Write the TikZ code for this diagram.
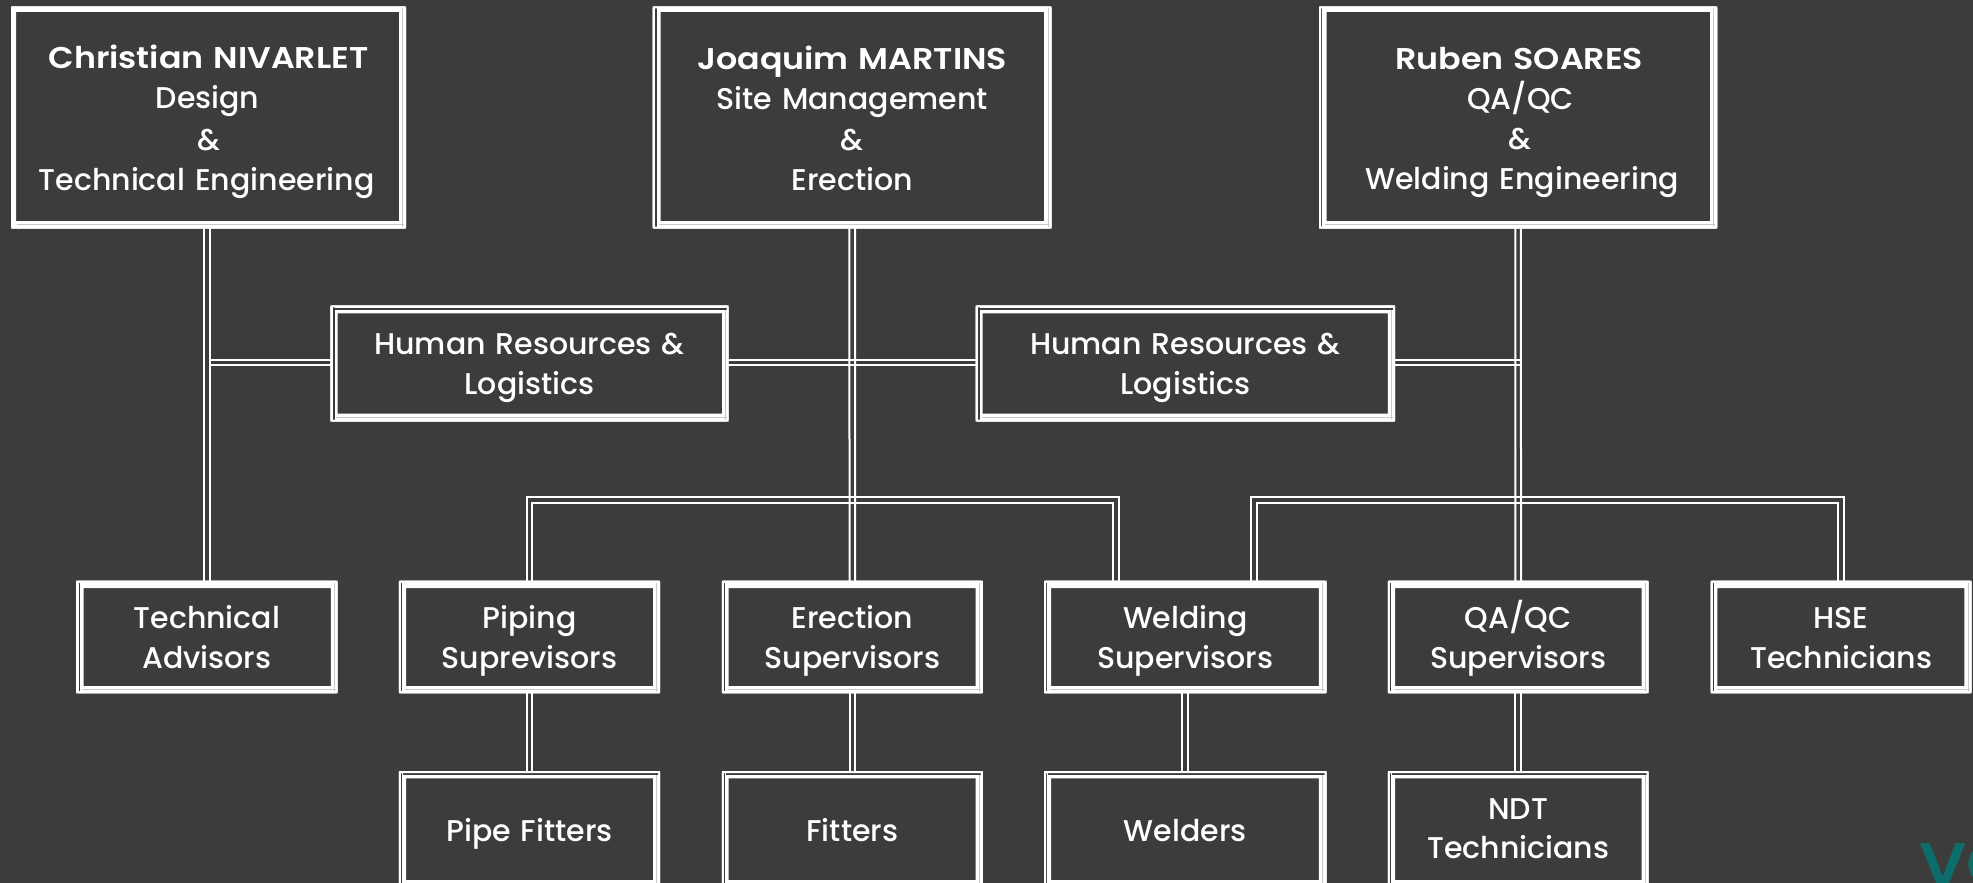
\documentclass[tikz,border=0pt]{standalone}
\usepackage{fontspec}
\setmainfont{Poppins}[UprightFont=* Medium,BoldFont=* SemiBold,BoldFeatures={FakeStretch=1.11}]
\definecolor{bgc}{HTML}{3C3C3B}
\definecolor{hair}{HTML}{C8C8C8}
\definecolor{tealc}{HTML}{0B6E6C}
\tikzset{
  x=1pt,y=-1pt,
  orgnode/.style={draw=white,line width=2pt,inner sep=0pt,outer sep=0pt,rounded corners=1pt,text=white,align=center,font=\fontsize{30}{39.5}\selectfont},
  widenode/.style={orgnode,font=\fontsize{30}{40}\selectfont},
  wire/.style={draw=white,line width=2pt,line join=miter}
}
\def\sh{31}\def\sd{8}
\newcommand\tl[1]{\rule[-\sd pt]{0pt}{\dimexpr\sh pt+\sd pt\relax}#1}
\newcommand\nudge[1]{\hspace*{#1pt}}
% name, x0,y0,x1,y1 (outer extents), text
\newcommand\orgbox[7][orgnode]{%
  \pgfmathsetmacro\cx{(#3+#5)/2}\pgfmathsetmacro\cy{(#4+#6)/2}%
  \pgfmathsetmacro\ww{#5-#3-2}\pgfmathsetmacro\hh{#6-#4-2}%
  \pgfmathsetmacro\tw{#5-#3-8}%
  \node[#1,minimum width=\ww pt,minimum height=\hh pt,text width=\tw pt] (#2) at (\cx,\cy) {#7};}
% x0,x1,y0,y1 outer extents ; i0,i1,j0,j1 opening
\newcommand\bandA[8]{%
  \fill[white,even odd rule] (#1,#3) rectangle (#2,#4) (#5,#7) rectangle (#6,#8);
  \def\Ax{#1}\def\Bx{#2}\def\Ay{#3}\def\By{#4}\def\Ix{#5}\def\Jx{#6}\def\Iy{#7}\def\Jy{#8}%
}
\newcommand\gaps[2]{%
  \pgfmathsetmacro\rx{(\Bx+\Jx)/2}\pgfmathsetmacro\ry{(\By+\Jy)/2}%
  \draw[hair,line width=.7pt] (\rx,\Ay+2) -- (\rx,\By-1);
  \draw[hair,line width=.7pt] (\Ax+6,\ry) -- (\Bx-1,\ry);
  \ifdim #1pt>0pt
    \pgfmathsetmacro\lx{\Ax+2.4+#1/2}%
    \draw[bgc,line width=#1pt] (\lx,\Ay+2) -- (\lx,\By-2);
  \fi
  \ifdim #2pt>0pt
    \pgfmathsetmacro\ty{\Ay+2.4+#2/2}%
    \draw[bgc,line width=#2pt] (\lx+1,\ty) -- (\Bx-2,\ty);
  \fi
}
\newcommand\vpair[2]{%
  \draw[wire] ([xshift=-2.8pt]#1) -- ([xshift=-2.8pt]#2);
  \draw[wire] ([xshift=2.8pt]#1) -- ([xshift=2.8pt]#2);}
\newcommand\hpair[2]{%
  \draw[wire] ([yshift=2.8pt]#1) -- ([yshift=2.8pt]#2);
  \draw[wire] ([yshift=-2.8pt]#1) -- ([yshift=-2.8pt]#2);}
% left drop, bus point, right drop
\newcommand\bus[3]{%
  \draw[wire] ([xshift=-2.8pt]#1) |- ([yshift=2.8pt]#2) -| ([xshift=2.8pt]#3);
  \draw[wire] ([xshift=2.8pt]#1) |- ([yshift=-2.8pt]#2) -| ([xshift=-2.8pt]#3);}
\begin{document}
\begin{tikzpicture}
\useasboundingbox (0,0) rectangle (1973,883);
\fill[bgc] (0,0) rectangle (1973,883);
\clip (0,0) rectangle (1973,883);

\node[text=tealc,anchor=base west,inner sep=0pt,font=\fontsize{60}{60}\selectfont\bfseries] (brand) at (1919,885) {VO};

% bands
\bandA{11}{406}{6.5}{228.5}{16}{399}{12}{221}\gaps{0}{0}
\bandA{652.7}{1051.7}{6.5}{228.5}{660.7}{1044}{12}{221}\gaps{1.4}{0}
\bandA{1319}{1717.3}{6.5}{228.5}{1326.7}{1710}{12}{221}\gaps{1}{0}
\bandA{330.4}{728.6}{305.3}{421.7}{337.5}{722}{313.3}{413.7}\gaps{2}{2}
\bandA{975.7}{1395}{305.3}{421.7}{982.5}{1387.9}{313.3}{413.7}\gaps{2}{2}
\bandA{76.2}{337.6}{580.7}{693.3}{83.7}{330.9}{588}{686}\gaps{1}{0}
\bandA{398.9}{660.2}{580.7}{693.3}{406}{653}{588}{686}\gaps{1}{0}
\bandA{721.9}{982.8}{580.7}{693.3}{728.6}{975.7}{588}{686}\gaps{1}{0}
\bandA{1044}{1326.5}{580.7}{693.3}{1051.2}{1318.9}{588}{686}\gaps{1}{0}
\bandA{1387.9}{1648.5}{580.7}{693.3}{1395}{1641.7}{588}{686}\gaps{1}{0}
\bandA{1710.7}{1971.7}{580.7}{693.3}{1717.3}{1964.3}{588}{686}\gaps{1}{0}
\bandA{398.9}{660.2}{771}{888}{406}{653}{778.3}{880}\gaps{1}{1.6}
\bandA{721.9}{982.8}{771}{888}{728.6}{975.7}{778.3}{880}\gaps{1}{1.6}
\bandA{1044}{1326.5}{771}{888}{1051.2}{1318.9}{778.3}{880}\gaps{1}{1.6}
\bandA{1387.9}{1648.5}{771}{888}{1395}{1641.7}{778.3}{880}\gaps{1}{1.6}

% boxes
\def\sh{32}\def\sd{7}
\orgbox[widenode]{lead1}{11}{6.5}{406}{228.5}{\tl{\textbf{Christian NIVARLET}}\\\nudge{-2}\tl{Design}\\\tl{\&}\\\nudge{-4}\tl{Technical Engineering}}
\orgbox[widenode]{lead2}{652.7}{6.5}{1051.7}{228.5}{\tl{\textbf{Joaquim MARTINS}}\\\tl{Site Management}\\\tl{\&}\\\tl{Erection}}
\orgbox[widenode]{lead3}{1319}{6.5}{1717.3}{228.5}{\nudge{2}\tl{\textbf{Ruben SOARES}}\\\nudge{5}\tl{QA/QC}\\\nudge{4}\tl{\&}\\\nudge{8}\tl{Welding Engineering}}
\def\sh{30}\def\sd{9}
\orgbox[widenode]{hr1}{330.4}{305.3}{728.6}{421.7}{\tl{Human Resources \&}\\\tl{Logistics}}
\orgbox[widenode]{hr2}{975.7}{305.3}{1395}{421.7}{\tl{Human Resources \&}\\\tl{Logistics}}
\def\sh{31}\def\sd{8}
\orgbox{tech}{76.2}{580.7}{337.6}{693.3}{\tl{Technical}\\\tl{Advisors}}
\orgbox{pipe}{398.9}{580.7}{660.2}{693.3}{\tl{Piping}\\\tl{Suprevisors}}
\orgbox{erec}{721.9}{580.7}{982.8}{693.3}{\tl{Erection}\\\tl{Supervisors}}
\orgbox{weld}{1044}{580.7}{1326.5}{693.3}{\tl{Welding}\\\tl{Supervisors}}
\orgbox{qaqc}{1387.9}{580.7}{1648.5}{693.3}{\tl{QA/QC}\\\tl{Supervisors}}
\orgbox{hse}{1710.7}{580.7}{1971.7}{693.3}{\tl{HSE}\\\tl{Technicians}}
\orgbox{pfit}{398.9}{771}{660.2}{888}{\tl{Pipe Fitters}}
\orgbox{fit}{721.9}{771}{982.8}{888}{\tl{Fitters}}
\orgbox{wldr}{1044}{771}{1326.5}{888}{\tl{Welders}}
\def\sh{29}\def\sd{10}
\orgbox{ndt}{1387.9}{771}{1648.5}{888}{\tl{NDT}\\\tl{Technicians}}

% helper points
\coordinate (a1) at (lead1.south -| tech.north);
\coordinate (ja) at (a1 |- 0,362.3);
\coordinate (jc) at (lead3.south |- 0,362.3);
\coordinate (h1l) at (hr1.west |- ja);
\coordinate (h1r) at (hr1.east |- ja);
\coordinate (h2l) at (hr2.west |- ja);
\coordinate (h2r) at (hr2.east |- ja);
\coordinate (jaR) at ([xshift=2.8pt]ja);
\coordinate (jcR) at ([xshift=2.8pt]jc);
\coordinate (busb) at (lead2.south |- 0,499.7);
\coordinate (busc) at (lead3.south |- 0,499.7);
\coordinate (weldL) at (1116,580.7);
\coordinate (weldR) at (1254,580.7);

% connectors
\vpair{a1}{tech.north}
\vpair{lead2.south}{erec.north}
\vpair{lead3.south}{qaqc.north}
\hpair{jaR}{h1l}
\hpair{h1r}{h2l}
\hpair{h2r}{jcR}
\bus{pipe.north}{busb}{weldL}
\bus{weldR}{busc}{hse.north}
\vpair{pipe.south}{pfit.north}
\vpair{erec.south}{fit.north}
\vpair{weld.south}{wldr.north}
\vpair{qaqc.south}{ndt.north}
\end{tikzpicture}
\end{document}
